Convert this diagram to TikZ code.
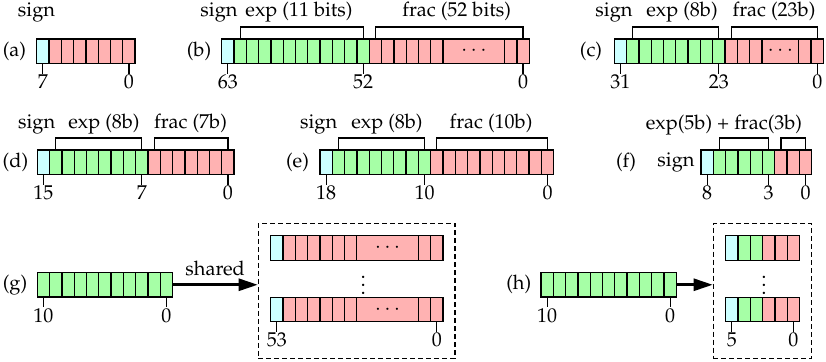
\documentclass[tikz,border=0pt]{standalone}
\usepackage[T1]{fontenc}
\usepackage{mathpazo}
\usetikzlibrary{arrows.meta,calc}
\definecolor{signc}{rgb}{0.8,1,1}
\definecolor{expc}{rgb}{0.65,1,0.65}
\definecolor{fracc}{rgb}{1,0.7,0.7}
\def\cw{12.3}
\def\ch{24.5}
\newcommand{\regcells}[3]{%
  \xdef\rcx{#1}%
  \foreach \c/\k/\w in {#3}{%
    \foreach \j in {1,...,\k}{%
      \pgfmathsetmacro\rnx{\rcx+\w*\cw}%
      \filldraw[fill=\c, cell] (\rcx,#2) rectangle (\rnx,#2+\ch);
      \xdef\rcx{\rnx}%
    }%
  }%
}
\newcommand{\myreg}[4]{%
  \regcells{#2}{#3}{#4}%
  \pgfmathsetmacro\rw{\rcx-#2}%
  \node[frame, minimum width=\rw pt] (#1) at (#2,#3) {};
}
\newcommand{\regtick}[3]{%
  \draw[tickl] ($(#1.south west)+({(#2+0.5)*\cw},0)$) -- ++(0,10);
  \node[lab, anchor=base] at ($(#1.south west)+({(#2+0.5)*\cw},25)$) {#3};
}
\newcommand{\regbrace}[3]{%
  \draw[brk] ($(#1.north west)+({(#2+0.5)*\cw},0)$) -- ++(0,-12)
    -| ($(#1.north west)+({(#3+0.5)*\cw},0)$);
}
\begin{document}
\begin{tikzpicture}[x=1pt,y=-1pt,
  cell/.style={draw=black, line width=1.3pt},
  frame/.style={draw=black, line width=1.3pt, inner sep=0pt, outer sep=0pt, anchor=north west, minimum height=\ch pt},
  tickl/.style={line width=1.2pt},
  brk/.style={line width=1.2pt},
  lab/.style={font=\fontsize{20}{24}\selectfont, inner sep=0pt},
  dbox/.style={draw, dash pattern=on 5pt off 3pt, line width=1.2pt, inner sep=0pt, minimum height=135pt},
  bigarrow/.style={line width=2.6pt, -{Triangle[length=19pt,width=12pt]}}
]
\useasboundingbox (0,0) rectangle (826,361);
% Row 1
\myreg{ra}{36.7}{39}{signc/1/1, fracc/7/1}
\myreg{rb}{221.7}{39}{signc/1/1, expc/11/1, fracc/6/1, fracc/1/5, fracc/2/1}
\myreg{rc}{614.3}{39}{signc/1/1, expc/8/1, fracc/3/1, fracc/1/3, fracc/2/1}
% Row 2
\myreg{rd}{37.3}{150}{signc/1/1, expc/8/1, fracc/7/1}
\myreg{re}{320}{150}{signc/1/1, expc/8/1, fracc/10/1}
\myreg{rf}{701}{150}{signc/1/1, expc/5/1, fracc/3/1}
% Row 3
\myreg{rg}{37.3}{272.5}{expc/11/1}
\myreg{rgt}{270.7}{235.7}{signc/1/1, fracc/6/1, fracc/1/5, fracc/2/1}
\myreg{rgb}{270.7}{297.3}{signc/1/1, fracc/6/1, fracc/1/5, fracc/2/1}
\myreg{rh}{541}{272.5}{expc/11/1}
\myreg{rht}{725.7}{235.7}{signc/1/1, expc/2/1, fracc/3/1}
\myreg{rhb}{725.7}{297.3}{signc/1/1, expc/2/1, fracc/3/1}
% ellipses in wide cells
\node[lab] (db) at ($(rb.west)+({20.5*\cw},0)$) {$\cdots$};
\node[lab] (dc) at ($(rc.west)+({13.5*\cw},0)$) {$\cdots$};
\node[lab] (dgt) at ($(rgt.west)+({9.5*\cw},0)$) {$\cdots$};
\node[lab] (dgb) at ($(rgb.west)+({9.5*\cw},0)$) {$\cdots$};
% ticks
\regtick{ra}{0}{7} \regtick{ra}{7}{0}
\regtick{rb}{0}{63} \regtick{rb}{11}{52} \regtick{rb}{24}{0}
\regtick{rc}{0}{31} \regtick{rc}{8}{23} \regtick{rc}{16}{0}
\regtick{rd}{0}{15} \regtick{rd}{8}{7} \regtick{rd}{15}{0}
\regtick{re}{0}{18} \regtick{re}{8}{10} \regtick{re}{18}{0}
\regtick{rf}{0}{8} \regtick{rf}{5}{3} \regtick{rf}{8}{0}
\regtick{rg}{0}{10} \regtick{rg}{10}{0}
\regtick{rgb}{0}{53} \regtick{rgb}{13}{0}
\regtick{rh}{0}{10} \regtick{rh}{10}{0}
\regtick{rhb}{0}{5} \regtick{rhb}{5}{0}
% braces
\regbrace{rb}{1}{11} \regbrace{rb}{12}{24}
\regbrace{rc}{1}{8} \regbrace{rc}{9}{16}
\regbrace{rd}{1}{8} \regbrace{rd}{9}{15}
\regbrace{re}{1}{8} \regbrace{re}{9}{18}
\regbrace{rf}{1}{5} \regbrace{rf}{6}{8}
% field labels
\node[lab, anchor=base] (ta1) at (36.5,17) {sign};
\node[lab, anchor=base] (tb1) at (219,17) {sign};
\node[lab, anchor=base] (tb2) at (299,17) {exp (11 bits)};
\node[lab, anchor=base] (tb3) at (456.7,17) {frac (52 bits)};
\node[lab, anchor=base] (tc1) at (614,17) {sign};
\node[lab, anchor=base] (tc2) at (682,17) {exp (8b)};
\node[lab, anchor=base] (tc3) at (774,17) {frac (23b)};
\node[lab, anchor=base] (td1) at (36.7,128.5) {sign};
\node[lab, anchor=base] (td2) at (104,128.5) {exp (8b)};
\node[lab, anchor=base] (td3) at (190.5,128.5) {frac (7b)};
\node[lab, anchor=base] (te1) at (318.7,128.5) {sign};
\node[lab, anchor=base] (te2) at (387,128.5) {exp (8b)};
\node[lab, anchor=base] (te3) at (491,128.5) {frac (10b)};
\node[lab, anchor=base] (tf2) at (724,129.5) {exp(5b) + frac(3b)};
\node[lab] (tf1) at (676,162.25) {sign};
% panel labels
\node[lab] (la) at (14.5,51.25) {(a)};
\node[lab] (lb) at (199,51.25) {(b)};
\node[lab] (lc) at (591,51.25) {(c)};
\node[lab] (ld) at (15.5,162.25) {(d)};
\node[lab] (le) at (297.5,162.25) {(e)};
\node[lab] (lf) at (626,162.25) {(f)};
\node[lab] (lg) at (15,284.75) {(g)};
\node[lab] (lh) at (518.8,284.75) {(h)};
% dashed groups
\node[dbox, minimum width=196.7pt] (dg) at (356.65,290.8) {};
\node[dbox, minimum width=98.4pt] (dh) at (762.5,290.8) {};
\node[inner sep=0pt] (vg) at (363.3,279) {\scalebox{2.1}{$\vdots$}};
\node[inner sep=0pt] (vh) at (764,279) {\scalebox{2.1}{$\vdots$}};
% arrows
\draw[bigarrow] (rg.east) -- (rg.east -| dg.west) node[lab, midway, anchor=base, yshift=9pt] {shared};
\draw[bigarrow] (rh.east) -- (rh.east -| dh.west);
\end{tikzpicture}
\end{document}
